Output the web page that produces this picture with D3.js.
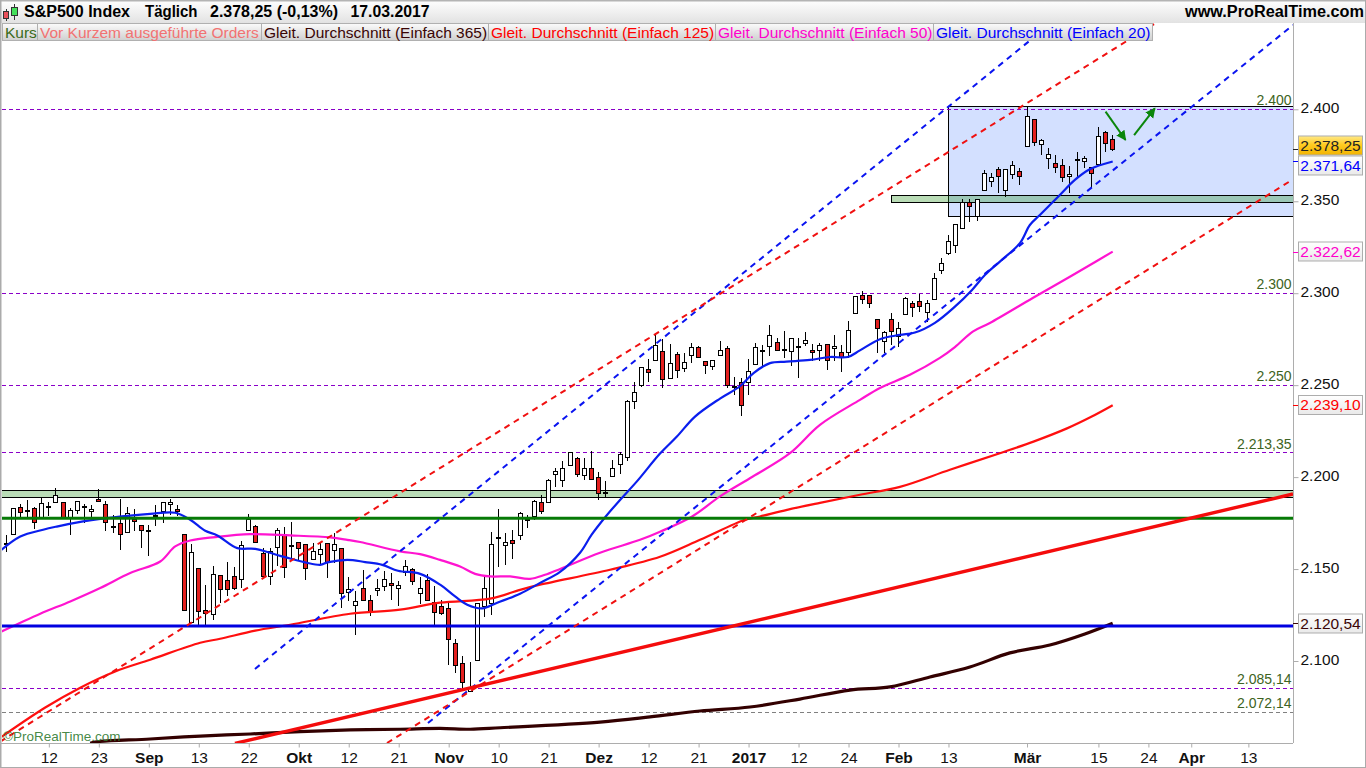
<!DOCTYPE html>
<html><head><meta charset="utf-8">
<script src="https://cdnjs.cloudflare.com/ajax/libs/d3/7.8.5/d3.min.js"></script>
<style>html,body{margin:0;padding:0;background:#fff}svg{display:block;font-family:"Liberation Sans",Arial,sans-serif}</style>
</head><body><div id="chart"></div>
<script>
const opens=[2163.6,2169.0,2183.7,2181.9,2183.2,2178.3,2183.7,2186.4,2186.4,2178.3,2182.1,2183.7,2181.5,2188.1,2185.3,2172.8,2175.0,2170.1,2177.2,2173.9,2171.0,2178.8,2181.5,2185.3,2182.6,2169.0,2121.2,2150.6,2127.7,2125.6,2146.8,2144.0,2146.2,2144.6,2171.0,2173.4,2158.7,2146.2,2162.0,2169.0,2162.7,2164.7,2163.6,2155.4,2158.2,2164.1,2160.3,2161.4,2137.5,2130.3,2139.7,2133.0,2138.4,2140.8,2142.4,2139.7,2148.6,2150.0,2137.0,2144.0,2132.1,2129.9,2128.8,2109.8,2098.9,2083.9,2100.6,2129.7,2131.5,2167.2,2163.1,2165.8,2168.5,2176.7,2178.6,2186.7,2186.4,2201.6,2198.4,2206.5,2210.3,2201.1,2204.9,2199.9,2191.3,2200.5,2207.0,2210.9,2241.3,2250.0,2258.7,2263.6,2268.5,2253.8,2266.8,2259.2,2266.3,2270.6,2263.0,2260.3,2266.3,2270.1,2249.1,2251.6,2251.6,2261.4,2268.5,2271.2,2273.3,2269.0,2268.5,2270.6,2272.8,2269.0,2269.0,2272.3,2270.1,2267.9,2267.9,2289.1,2298.9,2298.9,2285.9,2273.7,2285.9,2276.4,2288.6,2294.6,2295.6,2289.7,2296.7,2312.5,2321.7,2326.1,2335.3,2349.4,2341.8,2356.0,2360.9,2367.4,2356.0,2364.7,2366.3,2379.9,2394.6,2381.0,2373.4,2370.6,2369.6,2363.6,2372.3,2371.7,2368.5,2370.1,2387.5,2383.7];
const highs=[2168.7,2183.2,2185.5,2187.7,2183.7,2189.1,2186.4,2194.0,2186.4,2183.2,2187.0,2185.3,2184.6,2193.7,2186.8,2179.5,2188.1,2183.7,2182.6,2173.9,2173.9,2184.8,2186.4,2188.1,2185.0,2169.0,2163.8,2150.6,2141.5,2151.8,2146.9,2153.8,2151.1,2165.4,2180.1,2173.9,2161.4,2161.4,2172.3,2172.8,2175.6,2164.7,2163.8,2164.1,2164.1,2164.1,2169.6,2161.4,2145.7,2137.9,2149.7,2136.1,2144.6,2148.7,2147.8,2143.3,2155.1,2150.6,2145.7,2147.5,2141.0,2133.4,2131.5,2112.0,2102.9,2099.7,2131.5,2145.7,2170.1,2182.6,2169.6,2171.4,2180.8,2179.5,2187.7,2190.4,2199.1,2204.9,2208.5,2213.6,2211.2,2210.3,2214.3,2202.7,2198.0,2209.4,2213.9,2242.0,2251.6,2259.8,2264.1,2277.3,2275.0,2272.4,2267.9,2267.4,2272.8,2271.2,2263.0,2263.6,2274.1,2271.4,2254.3,2254.0,2264.1,2272.8,2271.9,2282.7,2275.5,2279.5,2275.5,2275.5,2279.0,2272.4,2272.8,2272.4,2277.3,2271.9,2285.0,2298.7,2301.3,2299.1,2285.9,2279.2,2289.1,2284.2,2297.8,2295.5,2299.6,2296.4,2310.9,2319.0,2331.7,2337.5,2351.1,2351.1,2351.1,2367.0,2365.2,2368.5,2367.4,2371.9,2367.9,2401.4,2394.6,2383.7,2378.8,2375.0,2372.8,2369.2,2376.6,2374.6,2368.5,2390.2,2388.0,2385.9];
const lows=[2159.1,2169.0,2178.3,2178.3,2171.9,2178.3,2179.0,2186.4,2178.3,2168.3,2180.1,2175.0,2175.9,2186.8,2170.8,2169.4,2160.2,2170.1,2170.5,2161.2,2156.9,2173.6,2175.0,2179.2,2178.6,2127.7,2120.7,2119.8,2119.8,2122.1,2131.5,2135.5,2138.8,2139.7,2171.0,2164.1,2145.1,2141.5,2151.5,2145.1,2156.0,2155.1,2143.9,2155.1,2152.4,2145.1,2153.3,2128.8,2132.4,2114.3,2132.8,2124.3,2135.2,2137.9,2133.4,2130.1,2146.4,2141.5,2131.2,2132.4,2119.8,2125.2,2097.7,2093.5,2084.4,2083.5,2100.6,2123.9,2125.2,2150.9,2152.4,2155.6,2166.0,2172.3,2176.8,2180.1,2186.4,2194.4,2194.4,2206.5,2200.3,2198.2,2198.9,2187.3,2188.4,2200.3,2201.8,2209.0,2237.1,2249.2,2251.6,2263.6,2248.2,2253.2,2254.1,2257.4,2262.3,2264.8,2255.8,2258.3,2266.3,2248.3,2244.4,2233.3,2244.7,2261.4,2259.8,2265.9,2268.8,2264.6,2260.5,2254.1,2271.4,2263.0,2263.4,2258.3,2263.0,2256.9,2264.7,2289.1,2294.0,2291.7,2267.4,2267.4,2271.9,2271.0,2288.0,2287.3,2290.0,2284.6,2296.7,2310.5,2320.8,2322.1,2334.8,2338.9,2339.5,2356.0,2358.0,2354.7,2352.5,2361.9,2359.0,2379.9,2380.2,2375.4,2367.7,2365.6,2360.7,2354.3,2362.7,2368.3,2357.4,2369.4,2377.0,2377.5];
const closes=[2164.1,2183.2,2180.8,2182.3,2175.6,2185.9,2184.3,2190.2,2178.3,2182.1,2187.0,2184.4,2182.6,2186.8,2175.6,2173.4,2169.0,2180.4,2176.1,2171.2,2171.4,2179.4,2186.4,2186.4,2181.4,2127.7,2159.3,2127.2,2126.1,2147.3,2139.1,2139.1,2139.7,2163.1,2177.2,2164.7,2146.2,2159.8,2171.2,2150.9,2163.2,2161.4,2150.6,2159.8,2160.9,2153.8,2163.6,2137.0,2139.1,2132.6,2133.2,2127.0,2139.7,2144.6,2141.1,2141.3,2151.6,2143.3,2139.7,2133.2,2126.6,2125.9,2112.0,2097.7,2088.6,2085.3,2131.5,2139.7,2163.6,2167.6,2164.7,2164.1,2180.5,2177.2,2186.9,2182.0,2198.4,2203.2,2204.9,2213.6,2201.6,2204.9,2198.9,2191.3,2191.8,2204.9,2212.5,2241.3,2246.2,2259.8,2257.0,2271.7,2253.2,2261.9,2258.1,2262.5,2270.6,2265.2,2260.9,2263.6,2269.0,2250.0,2249.6,2239.1,2257.6,2270.6,2269.0,2277.1,2269.0,2269.5,2275.5,2271.2,2274.4,2267.9,2271.7,2263.6,2271.2,2265.2,2279.9,2298.4,2296.7,2294.6,2281.0,2278.8,2279.3,2281.0,2297.3,2292.4,2292.9,2294.6,2308.1,2316.3,2328.3,2337.5,2349.4,2347.3,2351.1,2365.2,2363.0,2363.6,2367.4,2369.6,2363.6,2396.2,2382.1,2383.1,2375.5,2368.3,2363.0,2364.7,2372.8,2373.4,2365.2,2385.3,2381.5,2378.25];

const ma20Bars=[-0.8,2,5.2,7.1,10.8,13.2,17.4,20.2,23.7,25.8,27.9,29.6,32.4,34.9,38.4,44,45,47.8,50.3,52.7,54.9,58,60.8,62.9,64.6,66.7,68.8,72,74.8,77.6,80.4,82,84,86,88.3,91.6,94,96.5,100,102.8,104.7,107,109.3,112.6,115.4,117.9,119.6,122.4,125.2,127.3,130.1,132.9,135.3,137.1,139.2,142,143.4,144.8,147.6,149.7,151.8,155];
const ma20Values=[2159.9,2167.7,2171.4,2173.1,2175.9,2177.3,2179.1,2180.0,2180.6,2176.8,2170.8,2168.3,2161.4,2161.0,2157.2,2152.3,2153.6,2155.0,2153.8,2152.3,2149.1,2147.4,2141.5,2135.1,2130.6,2128.6,2131.7,2136.6,2142.5,2148.5,2158.9,2168.6,2178.6,2187.6,2197.4,2212.8,2222.2,2232.9,2242.7,2249.4,2256.6,2262.0,2262.8,2263.7,2265.3,2265.3,2268.9,2275.0,2277.3,2278.6,2283.9,2292.7,2301.8,2309.9,2317.2,2327.2,2337.1,2342.5,2353.4,2361.6,2367.4,2371.64];
const ma50Bars=[-0.8,4.8,9,13.2,17.4,21.6,23.7,25.8,29.3,34.2,39.8,45.4,47.8,49.6,55.2,58,60.8,63.6,65.7,67.8,70.6,73.4,75.5,83.2,88.8,91.6,96.1,100,104.6,109.8,114,119.6,122.4,126.6,130.8,132.9,135.4,137.8,143.8,147.6,151.1,155];
const ma50Values=[2115.7,2125.7,2132.4,2139.7,2147.8,2154.1,2162.3,2165.5,2167.4,2169.0,2168.3,2167.2,2165.9,2164.7,2159.6,2158.1,2155.0,2151.4,2147.4,2146.0,2146.0,2144.7,2146.9,2158.9,2165.9,2170.3,2178.6,2189.5,2200.3,2213.0,2228.4,2242.0,2248.5,2255.6,2264.8,2270.7,2279.1,2283.8,2297.4,2305.8,2313.7,2322.62];
const ma125Bars=[-0.8,5.5,10.4,15.3,20.2,27.2,30,34.9,39.8,48.2,55.2,60.8,67.8,72,74.8,84.6,91.6,97.2,103.5,105.6,109.4,114,119.6,125.2,132.2,139.2,143.9,148.6,152,155];
const ma125Values=[2058.3,2074.7,2085.5,2094.3,2100.7,2109.9,2112.1,2116.5,2119.7,2125.7,2127.9,2131.7,2133.9,2138.7,2141.5,2149.6,2156.7,2165.9,2176.8,2178.6,2182.2,2186.0,2190.4,2194.7,2204.0,2213.0,2219.3,2226.5,2232.8,2239.10];
const ma365Bars=[11.8,12.7,20.2,27.2,34.2,41.2,48.2,55.2,60.8,65,69.2,83.2,90.2,97.2,104.2,111.2,118.2,123.8,129.4,135,140.6,146.2,151.1,155];
const ma365Values=[2055.3,2056.1,2057.6,2059.2,2060.3,2061.6,2062.5,2062.9,2063.4,2062.9,2063.7,2066.8,2069.6,2072.8,2075.0,2079.3,2084.2,2085.9,2091.3,2096.7,2104.4,2108.7,2114.7,2120.54];

const purpleLevels=[2400,2300,2250,2213.35,2085.14];
const greyLevels=[2072.14];
const levelLabels=["2.400","2.300","2.250","2.213,35","2.085,14","2.072,14"];
const levelLabelValues=[2400,2300,2250,2213.35,2085.14,2072.14];
const greenLevel=2177.6;
const blueLevel=2119;
const lowerBand=[2189,2192.8];
const upperBand=[2349.4,2353];
const rangeBox=[2341.7,2401.5];
const rangeBoxStartBar=131.9;
const upperBandStartBar=124;
const lastBar=155, rightBar=180.25;

const blueChannelTop=[[34.87,2095.7],[147,2448.7]];
const blueChannelLow=[[59.1,2066.3],[180.25,2445.8]];
const redChannelTop=[[-0.84,2056.1],[161.6,2448.3]];
const redChannelLow=[[53.36,2055.4],[180.25,2361.9]];
const redSupport=[[32.07,2055.2],[180.25,2190.8]];
const arrowDown=[[154,2398.7],[156.8,2383.3]];
const arrowUp=[[158,2386],[160.9,2400.5]];

const xTickBars=[6,13,20,27,34,41,48,55,62,69,76,83,90,97,104,111,118,125,132,143,153,160,166,174];
const xTickLabels=["12","23","Sep","13","22","Okt","12","21","Nov","10","21","Dez","12","21","2017","12","24","Feb","13","Mär","15","24","Apr","13"];
const boldLabels=["Sep","Okt","Nov","Dez","2017","Feb","Mär","Apr"];
const yTicks=[2400,2350,2300,2250,2200,2150,2100];

const legendNames=["Kurs","Vor Kurzem ausgeführte Orders","Gleit. Durchschnitt (Einfach 365)","Gleit. Durchschnitt (Einfach 125)","Gleit. Durchschnitt (Einfach 50)","Gleit. Durchschnitt (Einfach 20)"];
const legendColors=["#3a6b1a","#f27272","#3a0505","#ff0000","#ff00cc","#0000ff"];
const legendEdges=[2,37,261,488,715,933,1152];

const lastValueLabels=[2378.25,2371.64,2322.62,2239.10,2120.54];
const lastValueColors=["#222","#0000ff","#ff00cc","#ff0000","#3a0505"];
const lastValueCenters=[145.5,165.5,251.5,405,623.5];
const lastValueTicks=[2378.25,2371.64,2322.62,2239.10,2120.54];

const W=1366,H=768,plotL=2,plotR=1293,plotT=23,plotB=743;
const x=d3.scaleLinear().domain([0,lastBar]).range([6,6+7.14*lastBar]);
const y=d3.scaleLinear().domain([2400,2100]).range([109.3,661]);
const de=d3.formatLocale({decimal:",",thousands:".",grouping:[3],currency:["","€"]});

const svg=d3.select("#chart").append("svg").attr("width",W).attr("height",H);
const defs=svg.append("defs");
function grad(id,stops){const g=defs.append("linearGradient").attr("id",id).attr("x1",0).attr("x2",0).attr("y1",0).attr("y2",1);
 stops.forEach(s=>g.append("stop").attr("offset",s[0]).attr("stop-color",s[1]));}
grad("head",[[0,"#ffffff"],[1,"#e2e2e2"]]);
grad("leg",[[0,"#fbfbfb"],[1,"#cfcfcf"]]);
grad("gold",[[0,"#ffe98a"],[.45,"#ffcc22"],[1,"#f2b400"]]);
grad("val",[[0,"#ffffff"],[1,"#e9e9e9"]]);
defs.append("clipPath").attr("id","plot").append("rect").attr("x",plotL).attr("y",plotT).attr("width",plotR-plotL).attr("height",plotB-plotT);
defs.append("marker").attr("id","ah").attr("markerUnits","userSpaceOnUse").attr("markerWidth",12).attr("markerHeight",12).attr("refX",9).attr("refY",5).attr("orient","auto")
 .append("path").attr("d","M0,0L10,5L0,10Z").attr("fill","#0a860a");

svg.append("rect").attr("width",W).attr("height",H).attr("fill","#fff");
const plot=svg.append("g").attr("clip-path","url(#plot)");

// range box + bands
const boxX=x(rangeBoxStartBar);
plot.append("rect").attr("x",Math.round(boxX)+.5).attr("y",y(rangeBox[1])).attr("width",plotR+5-boxX).attr("height",y(rangeBox[0])-y(rangeBox[1]))
 .attr("fill","#d3e0ff").attr("stroke","#000").attr("stroke-width",1.2).attr("shape-rendering","crispEdges");
plot.append("rect").attr("x",Math.round(x(upperBandStartBar))+.5).attr("y",y(upperBand[1])).attr("width",plotR+5-x(upperBandStartBar)).attr("height",y(upperBand[0])-y(upperBand[1]))
 .attr("fill","rgba(37,147,28,.32)").attr("stroke","#000").attr("stroke-width",1.2).attr("shape-rendering","crispEdges");
plot.append("rect").attr("x",-5).attr("y",y(lowerBand[1])).attr("width",plotR+10).attr("height",y(lowerBand[0])-y(lowerBand[1]))
 .attr("fill","rgba(37,147,28,.32)").attr("stroke","#000").attr("stroke-width",1.2).attr("shape-rendering","crispEdges");

// dashed levels
const levels=plot.append("g").attr("shape-rendering","crispEdges").attr("stroke-dasharray","4 3");
levels.selectAll("line.p").data(purpleLevels).join("line").attr("class","p").attr("x1",plotL).attr("x2",plotR).attr("y1",y).attr("y2",y).attr("stroke","#8a00c8");
levels.selectAll("line.g").data(greyLevels).join("line").attr("class","g").attr("x1",plotL).attr("x2",plotR).attr("y1",y).attr("y2",y).attr("stroke","#808080");

// candles
const bars=d3.range(opens.length);
const cx=i=>Math.floor(x(i))+.5;
const cg=plot.append("g").attr("shape-rendering","crispEdges");
cg.selectAll("line").data(bars).join("line").attr("x1",cx).attr("x2",cx).attr("y1",i=>y(highs[i])).attr("y2",i=>y(lows[i])).attr("stroke","#000");
cg.selectAll("rect").data(bars).join("rect")
 .attr("x",i=>cx(i)-2).attr("width",4)
 .attr("y",i=>Math.round(y(Math.max(opens[i],closes[i])))+.5)
 .attr("height",i=>Math.max(1,Math.round(Math.abs(y(opens[i])-y(closes[i])))))
 .attr("fill",i=>closes[i]>=opens[i]?"#fff":"#e3201f").attr("stroke","#000");

// moving averages
const maLine=d3.line().x(d=>x(d[0])).y(d=>y(d[1])).curve(d3.curveCatmullRom.alpha(0.5));
[[ma365Bars,ma365Values,"#330000",3.2],[ma125Bars,ma125Values,"#ff0f0f",2.2],[ma50Bars,ma50Values,"#ff14d0",2.2],[ma20Bars,ma20Values,"#0a1eee",2.2]]
 .forEach(m=>plot.append("path").attr("d",maLine(d3.zip(m[0],m[1]))).attr("fill","none").attr("stroke",m[2]).attr("stroke-width",m[3]));

// horizontal thick
plot.append("line").attr("x1",plotL).attr("x2",plotR).attr("y1",y(greenLevel)).attr("y2",y(greenLevel)).attr("stroke","#067a06").attr("stroke-width",3);
plot.append("line").attr("x1",plotL).attr("x2",plotR).attr("y1",y(blueLevel)).attr("y2",y(blueLevel)).attr("stroke","#0000e0").attr("stroke-width",3);

// trendlines
const seg=d3.line().x(d=>x(d[0])).y(d=>y(d[1]));
[[blueChannelTop,"#0a14f0"],[blueChannelLow,"#0a14f0"],[redChannelTop,"#f01010"],[redChannelLow,"#f01010"]]
 .forEach(t=>plot.append("path").attr("d",seg(t[0])).attr("fill","none").attr("stroke",t[1]).attr("stroke-width",2).attr("stroke-dasharray","6 5"));
plot.append("path").attr("d",seg(redSupport)).attr("fill","none").attr("stroke","#f40c0c").attr("stroke-width",3.4);
[arrowDown,arrowUp].forEach(a=>plot.append("path").attr("d",seg(a)).attr("fill","none").attr("stroke","#0a860a").attr("stroke-width",2).attr("marker-end","url(#ah)"));

// level labels
svg.append("g").selectAll("text").data(levelLabelValues).join("text")
 .attr("x",plotR-1.5).attr("y",d=>y(d)-4).attr("text-anchor","end").attr("font-size",14).attr("fill","#3d6322")
 .text((d,i)=>levelLabels[i]);

// axes
const xAxis=d3.axisBottom(x).tickValues(xTickBars).tickSize(4).tickPadding(4).tickFormat((d,i)=>xTickLabels[i]);
const gx=svg.append("g").attr("transform",`translate(0,${plotB+.5})`).call(xAxis);
gx.select(".domain").attr("d",`M0,0H${plotR}`).attr("stroke","#adadad");
gx.selectAll(".tick line").attr("stroke","#adadad");
gx.selectAll(".tick text").attr("font-family","Liberation Sans").attr("font-size",15.5).attr("fill","#111")
 .attr("font-weight",(d,i)=>boldLabels.includes(xTickLabels[i])?"bold":"normal");
const yAxis=d3.axisRight(y).tickValues(yTicks).tickSize(5).tickPadding(2).tickFormat(de.format(",d"));
const gy=svg.append("g").attr("transform",`translate(${plotR+.5},0)`).call(yAxis);
gy.select(".domain").attr("d",`M0,${plotT}V${plotB}`).attr("stroke","#adadad");
gy.selectAll(".tick line").attr("stroke","#adadad");
gy.selectAll(".tick text").attr("font-family","Liberation Sans").attr("font-size",15.5).attr("fill","#111").attr("dy","0.22em");

// last value boxes
lastValueLabels.forEach((v,i)=>{
 const g=svg.append("g");
 g.append("line").attr("x1",plotR).attr("x2",plotR+6).attr("y1",Math.round(y(lastValueTicks[i]))+.5).attr("y2",Math.round(y(lastValueTicks[i]))+.5).attr("stroke",lastValueColors[i]);
 g.append("rect").attr("x",1298.5).attr("y",lastValueCenters[i]-9.5).attr("width",64).attr("height",19)
  .attr("fill",i==0?"url(#gold)":"url(#val)").attr("stroke","#adadad");
 g.append("text").attr("x",1330.5).attr("y",lastValueCenters[i]+5).attr("text-anchor","middle").attr("font-size",15.5).attr("fill",lastValueColors[i]).text(de.format(",.2f")(v));
});

// header
svg.append("rect").attr("x",0).attr("y",0).attr("width",W).attr("height",23).attr("fill","url(#head)");
svg.append("rect").attr("x",0).attr("y",0).attr("width",W).attr("height",1.5).attr("fill","#b4b4b4");
// chart-type icon
const icon=svg.append("g").attr("shape-rendering","crispEdges");
icon.append("line").attr("x1",6).attr("x2",6).attr("y1",9).attr("y2",21).attr("stroke","#333");
icon.append("rect").attr("x",3.5).attr("y",11.5).attr("width",5).attr("height",7).attr("fill","#e8505a").attr("stroke","#333");
icon.append("line").attr("x1",14.5).attr("x2",14.5).attr("y1",4).attr("y2",20).attr("stroke","#333");
icon.append("rect").attr("x",11.5).attr("y",7.5).attr("width",6).attr("height",8).attr("fill","#44e05a").attr("stroke","#333");
const titleBits=[["S&P500 Index",24,106],["Täglich",145,52.5],["2.378,25 (-0,13%)",210,128],["17.03.2017",350.5,79]];
svg.append("g").selectAll("text").data(titleBits).join("text").attr("x",d=>d[1]).attr("y",17).attr("font-size",16).attr("font-weight","bold").attr("fill","#000")
 .attr("textLength",d=>d[2]).attr("lengthAdjust","spacingAndGlyphs").text(d=>d[0]);
svg.append("text").attr("x",1185).attr("y",17).attr("font-size",16).attr("font-weight","bold").attr("fill","#000")
 .attr("textLength",179).attr("lengthAdjust","spacingAndGlyphs").text("www.ProRealTime.com");
// legend
const lg=svg.append("g");
legendNames.forEach((n,i)=>{
 lg.append("rect").attr("x",legendEdges[i]+.5).attr("y",23.5).attr("width",legendEdges[i+1]-legendEdges[i]).attr("height",17).attr("fill","url(#leg)").attr("stroke","#b0b0b0").attr("shape-rendering","crispEdges");
 lg.append("text").attr("x",legendEdges[i]+3).attr("y",37.5).attr("font-size",15.5).attr("fill",legendColors[i]).text(n);
});
// copyright + frame
svg.append("text").attr("x",3).attr("y",740.5).attr("font-size",13.5).attr("fill","#2f7a2f").attr("fill-opacity",.9).text("©ProRealTime.com");
const frame=svg.append("g").attr("fill","#ababab");
frame.append("rect").attr("x",0).attr("y",0).attr("width",1.5).attr("height",H);
frame.append("rect").attr("x",W-1).attr("y",0).attr("width",1).attr("height",H);
frame.append("rect").attr("x",0).attr("y",H-1).attr("width",W).attr("height",1);
</script></body></html>
